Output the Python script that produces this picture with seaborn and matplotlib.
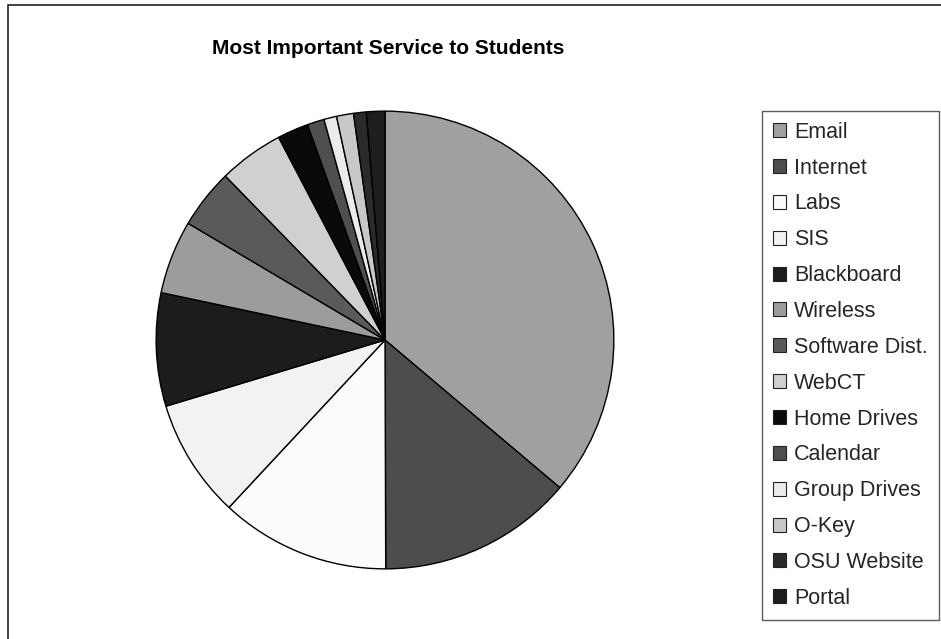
import matplotlib
matplotlib.use("Agg")
import matplotlib.pyplot as plt
import seaborn as sns
from matplotlib.patches import Rectangle

categories = ["Email", "Internet", "Labs", "SIS", "Blackboard", "Wireless",
              "Software Dist.", "WebCT", "Home Drives", "Calendar",
              "Group Drives", "O-Key", "OSU Website", "Portal"]
values = [36.2, 13.8, 12.0, 8.4, 8.0, 5.2, 4.2, 4.6, 2.2, 1.2, 0.9, 1.2, 0.9, 1.3]
colors = ["#a0a0a0", "#4d4d4d", "#fbfbfb", "#f2f2f2", "#1c1c1c", "#9c9c9c",
          "#5a5a5a", "#d0d0d0", "#0a0a0a", "#4f4f4f", "#ebebeb", "#c8c8c8",
          "#2a2a2a", "#1e1e1e"]
title = "Most Important Service to Students"

sns.set_theme(style="white")
plt.rcParams["font.family"] = ["Liberation Sans", "DejaVu Sans"]

W, H = 941, 639
fig = plt.figure(figsize=(W / 100, H / 100), dpi=100)
fig.patch.set_facecolor("white")

cx, cy, r = 385, 340, 230
ax = fig.add_axes([(cx - r) / W, (H - cy - r) / H, 2 * r / W, 2 * r / H])
wedges, _ = ax.pie(values, colors=colors, startangle=90, counterclock=False,
                   radius=1, wedgeprops=dict(edgecolor="black", linewidth=1.0))
ax.set_xlim(-1.005, 1.005)
ax.set_ylim(-1.005, 1.005)
ax.set_aspect("equal")
ax.axis("off")

fig.text(388 / W, (H - 54) / H, title, ha="center", va="baseline",
         fontsize=15, fontweight="bold", color="black")

leg = fig.legend(wedges, categories, loc="upper left",
                 bbox_to_anchor=(762 / W, (H - 111) / H),
                 bbox_transform=fig.transFigure,
                 fontsize=15.5, frameon=True, fancybox=False,
                 handlelength=0.62, handleheight=0.62, handletextpad=0.37,
                 labelspacing=0.69, borderpad=0.5, borderaxespad=0.0)
leg.get_frame().set_edgecolor("#333333")
leg.get_frame().set_linewidth(1.0)
for h in leg.legend_handles:
    h.set_edgecolor("#222222")
    h.set_linewidth(0.8)

border = Rectangle((8 / W, -0.1), 1.2, (H - 5) / H + 0.1,
                   transform=fig.transFigure, fill=False,
                   edgecolor="#222222", linewidth=1.2, clip_on=False)
fig.patches.append(border)

fig.savefig("out.png", dpi=100)
